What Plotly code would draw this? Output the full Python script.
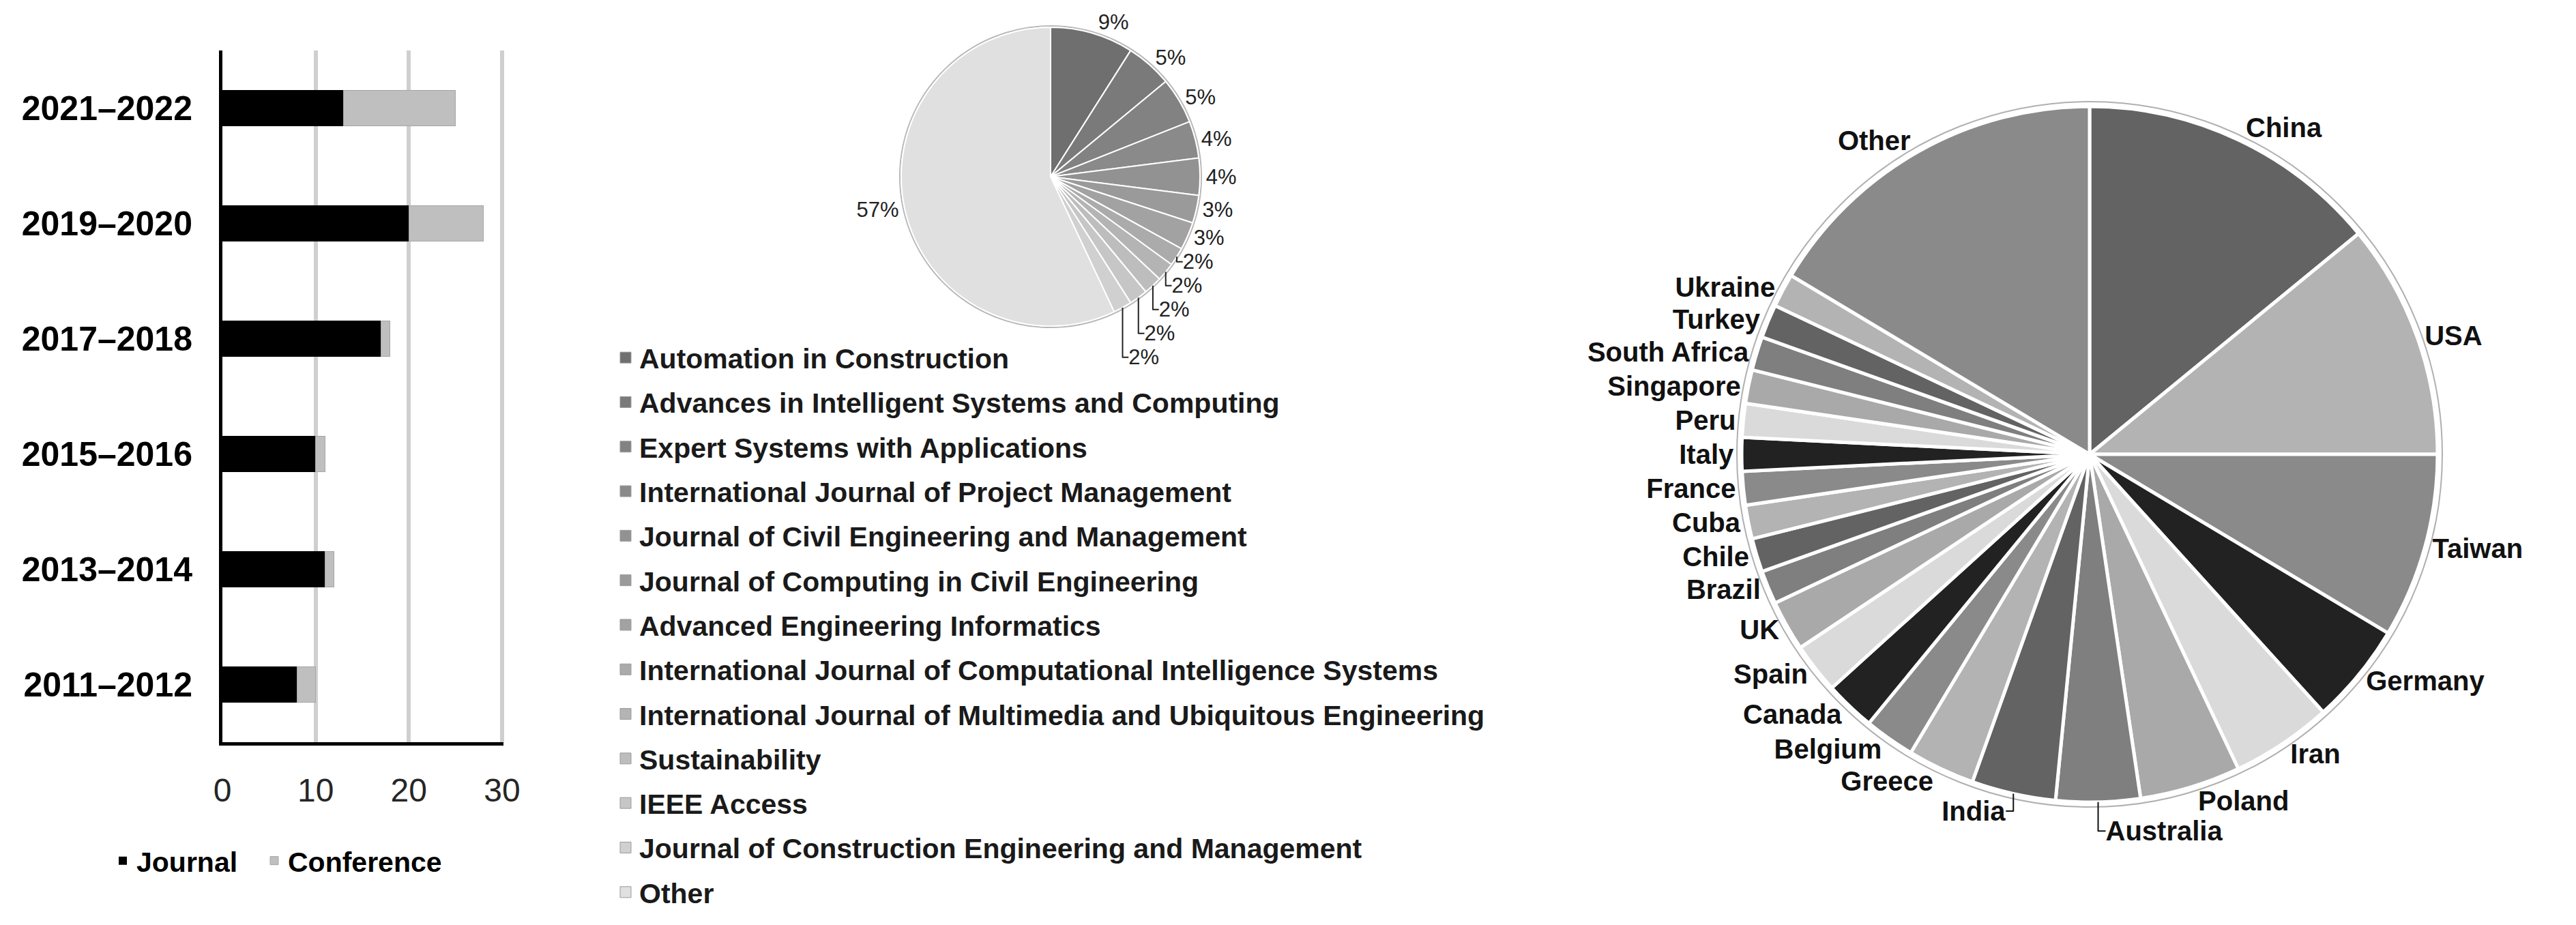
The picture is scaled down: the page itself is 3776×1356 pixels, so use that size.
import plotly.graph_objects as go

# ---------------- data ----------------
periods = ["2011–2012", "2013–2014", "2015–2016", "2017–2018", "2019–2020", "2021–2022"]
journal = [8, 11, 10, 17, 20, 13]
conference = [2, 1, 1, 1, 8, 12]

venues = [
    "Automation in Construction",
    "Advances in Intelligent Systems and Computing",
    "Expert Systems with Applications",
    "International Journal of Project Management",
    "Journal of Civil Engineering and Management",
    "Journal of Computing in Civil Engineering",
    "Advanced Engineering Informatics",
    "International Journal of Computational Intelligence Systems",
    "International Journal of Multimedia and Ubiquitous Engineering",
    "Sustainability",
    "IEEE Access",
    "Journal of Construction Engineering and Management",
    "Other",
]
venue_share = [9, 5, 5, 4, 4, 3, 3, 2, 2, 2, 2, 2, 57]
venue_colors = ["#6f6f6f", "#7a7a7a", "#828282", "#8a8a8a", "#929292", "#9a9a9a",
                "#a2a2a2", "#ababab", "#b4b4b4", "#bdbdbd", "#c6c6c6", "#d0d0d0", "#e0e0e0"]

countries = ["China", "USA", "Taiwan", "Germany", "Iran", "Poland", "Australia", "India",
             "Greece", "Belgium", "Canada", "Spain", "UK", "Brazil", "Chile", "Cuba",
             "France", "Italy", "Peru", "Singapore", "South Africa", "Turkey", "Ukraine", "Other"]
country_count = [18, 14, 11, 6, 6, 6, 5, 5, 4, 3, 3, 3, 3, 2, 2, 2, 2, 2, 2, 2, 2, 2, 2, 21]
grey_cycle = ["#636363", "#b3b3b3", "#8a8a8a", "#222222", "#dadada", "#a9a9a9", "#7f7f7f"]
country_colors = [grey_cycle[i % len(grey_cycle)] for i in range(len(countries))]

W, H = 3776, 1356
OFF = 8  # page body margin in the screenshot
FONT = "Liberation Sans, Arial, sans-serif"


def px_x(p):
    return (p - OFF) / W


def px_y(p):
    return 1 - (p - OFF) / H


def dom_x(a, b):
    return [px_x(a), px_x(b)]


def dom_y(top, bottom):
    return [px_y(bottom), px_y(top)]


fig = go.Figure()

# ---------------- bar chart ----------------
fig.add_trace(go.Bar(y=periods, x=journal, name="Journal", orientation="h",
                     marker=dict(color="#000000", line=dict(width=0)),
                     legend="legend"))
fig.add_trace(go.Bar(y=periods, x=conference, name="Conference", orientation="h",
                     marker=dict(color="#bfbfbf", line=dict(color="#a6a6a6", width=1)),
                     legend="legend3"))

# ---------------- venue pie ----------------
c1x, c1y, r1 = 1540, 259, 219
fig.add_trace(go.Pie(values=[1], labels=[" "], marker=dict(colors=["#ffffff"],
                     line=dict(color="#b8b8b8", width=2)),
                     textinfo="none", hoverinfo="skip", showlegend=False, sort=False,
                     domain=dict(x=dom_x(c1x - r1 - 2, c1x + r1 + 2), y=dom_y(c1y - r1 - 2, c1y + r1 + 2))))
fig.add_trace(go.Pie(labels=venues, values=venue_share, sort=False, direction="clockwise",
                     rotation=0, showlegend=False,
                     marker=dict(colors=venue_colors, line=dict(color="#ffffff", width=2)),
                     textinfo="percent", textposition="outside",
                     textfont=dict(family=FONT, size=31, color="#222222"),
                     domain=dict(x=dom_x(c1x - r1, c1x + r1), y=dom_y(c1y - r1, c1y + r1))))

# legend entries for the venue pie (one per venue, same colours as the slices)
for name, col in zip(venues, venue_colors):
    fig.add_trace(go.Scatter(x=[None], y=[None], mode="markers", name=name,
                             marker=dict(symbol="square", size=16, color=col,
                                         line=dict(color="#9a9a9a", width=1)),
                             legend="legend2", legendgroup=name, hoverinfo="skip"))

# ---------------- country pie ----------------
c2x, c2y, r2 = 3063, 666, 510
fig.add_trace(go.Pie(values=[1], labels=["  "], marker=dict(colors=["#ffffff"],
                     line=dict(color="#b0b0b0", width=2)),
                     textinfo="none", hoverinfo="skip", showlegend=False, sort=False,
                     domain=dict(x=dom_x(c2x - r2 - 7, c2x + r2 + 7), y=dom_y(c2y - r2 - 7, c2y + r2 + 7))))
fig.add_trace(go.Pie(labels=countries, values=country_count, sort=False, direction="clockwise",
                     rotation=0, showlegend=False,
                     marker=dict(colors=country_colors, line=dict(color="#ffffff", width=5)),
                     textinfo="label", textposition="outside",
                     textfont=dict(family=FONT, size=40, color="#111111", weight="bold"),
                     domain=dict(x=dom_x(c2x - r2, c2x + r2), y=dom_y(c2y - r2, c2y + r2))))

bar_legend_font = dict(family=FONT, size=41, color="#000000", weight="bold")

fig.update_layout(
    width=W, height=H,
    margin=dict(l=0, r=0, t=0, b=0, autoexpand=False),
    paper_bgcolor="white", plot_bgcolor="white",
    barmode="stack", bargap=0.69,
    font=dict(family=FONT, color="#000000"),
    xaxis=dict(domain=dom_x(326, 738), range=[0, 30.15], tickvals=[0, 10, 20, 30],
               showgrid=True, gridcolor="#cfcfcf", gridwidth=6,
               showline=True, linecolor="#000000", linewidth=5,
               zeroline=False, ticks="", ticklabelstandoff=24, automargin=False,
               tickfont=dict(family=FONT, size=48, color="#262626")),
    yaxis=dict(domain=dom_y(74, 1088), categoryorder="array", categoryarray=periods,
               showline=True, linecolor="#000000", linewidth=5, showgrid=False,
               ticks="", ticklabelstandoff=29, automargin=False,
               tickfont=dict(family=FONT, size=50, color="#000000", weight="bold")),
    legend=dict(orientation="h", x=px_x(160), xanchor="left", y=px_y(1262), yanchor="middle",
                font=bar_legend_font, bgcolor="rgba(0,0,0,0)"),
    legend3=dict(orientation="h", x=px_x(382), xanchor="left", y=px_y(1262), yanchor="middle",
                 font=bar_legend_font, bgcolor="rgba(0,0,0,0)"),
    legend2=dict(orientation="v", x=px_x(897), xanchor="left", y=px_y(491), yanchor="top",
                 font=dict(family=FONT, size=41, color="#1a1a1a", weight="bold"),
                 traceorder="grouped", tracegroupgap=9, itemsizing="trace",
                 bgcolor="rgba(0,0,0,0)"),
)

fig.write_html("out.html")
